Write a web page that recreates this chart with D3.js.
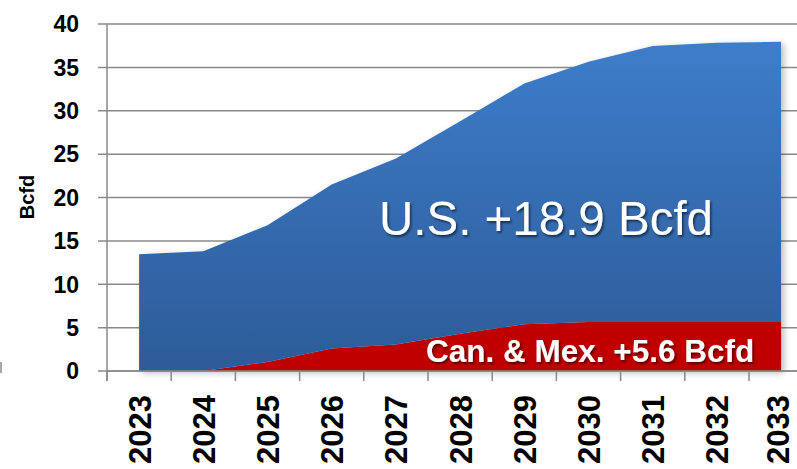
<!DOCTYPE html>
<html>
<head>
<meta charset="utf-8">
<script src="https://cdn.jsdelivr.net/npm/d3@7/dist/d3.min.js"></script>
<style>
  html, body { margin: 0; padding: 0; background: #fff; }
  svg { display: block; }
</style>
</head>
<body>
<svg id="chart" width="797" height="469"></svg>
<script>
// ---- data ----
const years = ["2023","2024","2025","2026","2027","2028","2029","2030","2031","2032","2033"];
const canMex = [0, 0, 1.05, 2.6, 3.05, 4.3, 5.4, 5.65, 5.65, 5.65, 5.65];
const us = [13.45, 13.8, 15.75, 18.9, 21.45, 24.5, 27.75, 30.0, 31.8, 32.2, 32.3];
const yTicks = [0, 5, 10, 15, 20, 25, 30, 35, 40];
const usLabel = "U.S. +18.9 Bcfd";
const cmLabel = "Can. & Mex. +5.6 Bcfd";
const yTitle = "Bcfd";

// ---- layout ----
const W = 797, H = 469;
const mLeft = 107, mTop = 24, mBottom = 371;
const bandW = 64.2;
const xFont = 31;
const svg = d3.select("#chart");

const x = d3.scaleBand().domain(years).range([mLeft, mLeft + bandW * years.length]).padding(0);
const cx = d => x(d) + x.bandwidth() / 2;
const y = d3.scaleLinear().domain([0, 40]).range([mBottom, mTop]);

const rows = years.map((yr, i) => ({ year: yr, canMex: canMex[i], us: us[i] }));
const stack = d3.stack().keys(["canMex", "us"]);
const series = stack(rows);

const defs = svg.append("defs");
const grad = defs.append("linearGradient").attr("id", "blueGrad")
  .attr("gradientUnits", "userSpaceOnUse").attr("x1", 0).attr("x2", 0)
  .attr("y1", y(38)).attr("y2", y(0));
grad.append("stop").attr("offset", "0%").attr("stop-color", "#3d7dca");
grad.append("stop").attr("offset", "100%").attr("stop-color", "#2d5b98");

const sh = defs.append("filter").attr("id", "areaShadow")
  .attr("x", "-5%").attr("y", "-5%").attr("width", "115%").attr("height", "115%");
sh.append("feDropShadow").attr("dx", 3).attr("dy", 2).attr("stdDeviation", 3)
  .attr("flood-color", "#000").attr("flood-opacity", 0.25);

const ts = defs.append("filter").attr("id", "textShadow")
  .attr("x", "-5%").attr("y", "-20%").attr("width", "115%").attr("height", "150%");
ts.append("feDropShadow").attr("dx", 1.5).attr("dy", 2).attr("stdDeviation", 1)
  .attr("flood-color", "#000").attr("flood-opacity", 0.55);

// gridlines
svg.append("g").selectAll("line").data(yTicks).join("line")
  .attr("x1", mLeft - 9).attr("x2", W)
  .attr("y1", d => y(d)).attr("y2", d => y(d))
  .attr("stroke", "#8a8a8a").attr("stroke-width", 1.5);

// areas
const area = d3.area()
  .x(d => cx(d.data.year))
  .y0(d => y(d[0]))
  .y1(d => y(d[1]));
const colors = { canMex: "#c00000", us: "url(#blueGrad)" };
const gArea = svg.append("g").attr("filter", "url(#areaShadow)");
gArea.selectAll("path").data(series).join("path")
  .attr("d", area)
  .attr("fill", d => colors[d.key]);

// x axis line + ticks
svg.append("line").attr("x1", mLeft).attr("x2", W).attr("y1", y(0)).attr("y2", y(0))
  .attr("stroke", "#8a8a8a").attr("stroke-width", 1.5);
const tickXs = years.map(d => x(d));
svg.append("g").selectAll("line").data(tickXs).join("line")
  .attr("x1", d => d).attr("x2", d => d)
  .attr("y1", y(0)).attr("y2", y(0) + 10)
  .attr("stroke", "#8a8a8a").attr("stroke-width", 1.5);

// y axis line
svg.append("line").attr("x1", mLeft).attr("x2", mLeft).attr("y1", y(40)).attr("y2", y(0) + 10)
  .attr("stroke", "#8a8a8a").attr("stroke-width", 1.5);

// y tick labels
svg.append("g").selectAll("text").data(yTicks).join("text")
  .attr("x", 79).attr("y", d => y(d)).attr("dy", "0.36em")
  .attr("text-anchor", "end")
  .attr("font-family", "Liberation Sans, Arial, sans-serif")
  .attr("font-weight", "bold").attr("font-size", 23)
  .attr("fill", "#000")
  .text(d => d);

// x tick labels (rotated)
svg.append("g").selectAll("text").data(years).join("text")
  .attr("transform", d => `translate(${Math.min(cx(d) + 11.5, W - 0.23 * xFont - 1)},395) rotate(-90)`)
  .attr("text-anchor", "end")
  .attr("font-family", "Liberation Sans, Arial, sans-serif")
  .attr("font-weight", "bold").attr("font-size", xFont)
  .attr("fill", "#000")
  .text(d => d);

// y title
svg.append("text")
  .attr("transform", "translate(34,197) rotate(-90)")
  .attr("text-anchor", "middle")
  .attr("font-family", "Liberation Sans, Arial, sans-serif")
  .attr("font-weight", "bold").attr("font-size", 20)
  .attr("fill", "#000")
  .text(yTitle);

// small mark at left edge
svg.append("line").attr("x1", 1).attr("x2", 1).attr("y1", 362).attr("y2", 373)
  .attr("stroke", "#8a8a8a").attr("stroke-width", 1.5);

// series labels
svg.append("text")
  .attr("x", 379).attr("y", 235)
  .attr("font-family", "Liberation Sans, Arial, sans-serif")
  .attr("font-size", 47.5)
  .attr("fill", "#fff")
  .attr("filter", "url(#textShadow)")
  .text(usLabel);

svg.append("text")
  .attr("x", 426).attr("y", 362)
  .attr("font-family", "Liberation Sans, Arial, sans-serif")
  .attr("font-weight", "bold").attr("font-size", 31.5)
  .attr("fill", "#fff")
  .attr("filter", "url(#textShadow)")
  .text(cmLabel);
</script>
</body>
</html>
